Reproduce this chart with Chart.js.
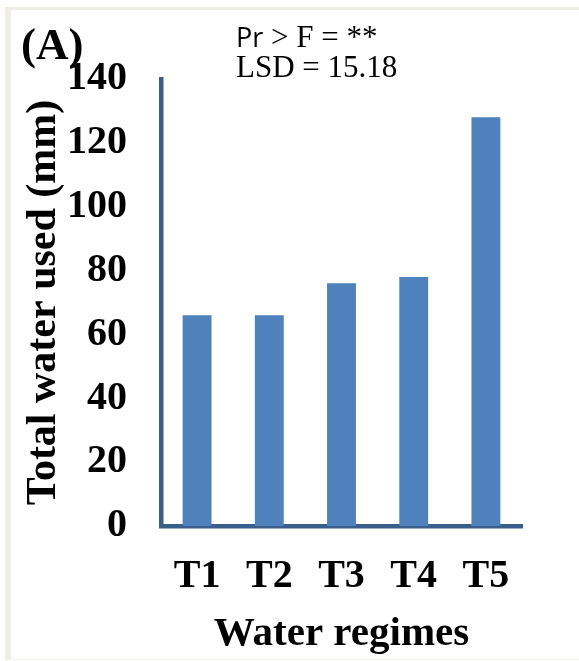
<!DOCTYPE html>
<html>
<head>
<meta charset="utf-8">
<script src="https://cdn.jsdelivr.net/npm/chart.js@4"></script>
<style>
  body { margin: 0; background: #fff; }
  .wrap { position: relative; width: 579px; height: 661px; overflow: hidden; }
  .frame {
    position: absolute; left: 5px; top: 7px; right: 0; bottom: 1px;
    border-top: 3px solid #eeede3;
    border-left: 6px solid #efeee5;
    border-bottom: 1px solid #f3f2ec;
  }
  canvas { position: absolute; left: 0; top: 0; }
</style>
</head>
<body>
<div class="wrap">
  <div class="frame"></div>
  <canvas id="myChart" width="579" height="661"></canvas>
</div>
<script>
// data
const regimes = ["T1", "T2", "T3", "T4", "T5"];
const waterUsed = [66, 66, 76, 78, 128];
const yTicks = [0, 20, 40, 60, 80, 100, 120, 140];

const serif = '"Liberation Serif", "Times New Roman", serif';

// panel letter and stats text
const notes = {
  id: 'notes',
  afterDraw(chart) {
    const c = chart.ctx;
    c.save();
    c.fillStyle = '#000';
    c.textBaseline = 'alphabetic';
    c.textAlign = 'left';

    c.font = 'bold 45px ' + serif;
    c.fillText('(A)', 21, 59);

    c.font = '27px "Open Sans", sans-serif';
    c.fillText('Pr', 236, 47);
    const w = c.measureText('Pr').width;
    c.font = '31px ' + serif;
    c.fillText(' > F = **', 236 + w, 47);

    c.fillText('LSD = 15.18', 236, 77);
    c.restore();
  }
};

const ctx = document.getElementById('myChart').getContext('2d');

const chart = new Chart(ctx, {
  type: 'bar',
  data: {
    labels: regimes,
    datasets: [{
      label: 'Total water used',
      data: waterUsed,
      backgroundColor: '#4f81bd',
      borderWidth: 0,
      barPercentage: 0.4,
      categoryPercentage: 1
    }]
  },
  options: {
    responsive: false,
    animation: false,
    devicePixelRatio: 1,
    layout: { padding: { top: 79, right: 57, bottom: 0, left: 0 } },
    plugins: {
      legend: { display: false },
      tooltip: { enabled: false }
    },
    scales: {
      x: {
        grid: { display: false, drawTicks: false },
        border: { display: true, color: '#3a5e8c', width: 4.5 },
        ticks: {
          color: '#000',
          padding: 27,
          font: { family: serif, size: 40, weight: 'bold' }
        },
        title: {
          display: true,
          text: 'Water regimes',
          color: '#000',
          padding: { top: 0, bottom: 2 },
          font: { family: serif, size: 41, weight: 'bold' }
        },
        afterFit(s) { s.height = 135; }
      },
      y: {
        min: 0,
        max: 140,
        grid: { display: false, drawTicks: false },
        border: { display: true, color: '#3a5e8c', width: 4.5 },
        afterBuildTicks(s) { s.ticks = yTicks.map(v => ({ value: v })); },
        ticks: {
          color: '#000',
          padding: 34,
          font: { family: serif, size: 40, weight: 'bold' }
        },
        title: {
          display: true,
          text: 'Total water used (mm)',
          color: '#000',
          padding: { top: 19, bottom: 0 },
          font: { family: serif, size: 42, weight: 'bold' }
        },
        afterFit(s) { s.width = 161; }
      }
    }
  },
  plugins: [notes]
});
</script>
</body>
</html>
